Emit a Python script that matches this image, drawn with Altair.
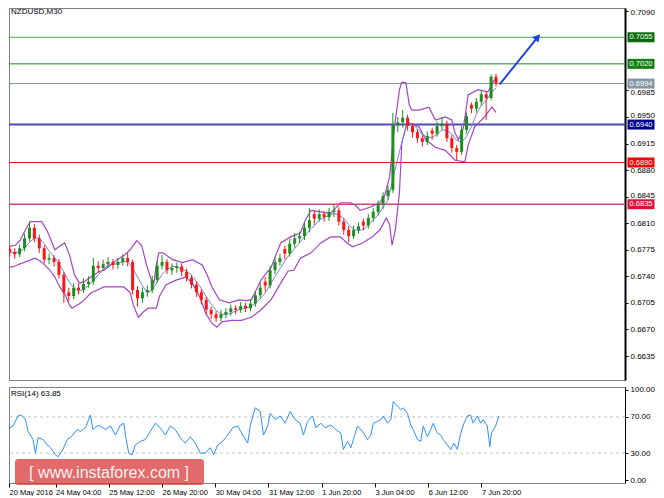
import altair as alt
import pandas as pd

# ---------------- data ----------------
candle_open = [0.6776, 0.6772, 0.6769, 0.6777, 0.6790, 0.6804, 0.6790, 0.6777, 0.6762, 0.6764,
               0.6759, 0.6742, 0.6719, 0.6714, 0.6725, 0.6722, 0.6730, 0.6733, 0.6754, 0.6751,
               0.6756, 0.6759, 0.6755, 0.6759, 0.6764, 0.6759, 0.6722, 0.6711, 0.6719, 0.6722,
               0.6735, 0.6754, 0.6759, 0.6748, 0.6751, 0.6753, 0.6746, 0.6738, 0.6729, 0.6719,
               0.6709, 0.6696, 0.6690, 0.6685, 0.6690, 0.6693, 0.6698, 0.6696, 0.6701, 0.6698,
               0.6704, 0.6715, 0.6733, 0.6728, 0.6748, 0.6759, 0.6776, 0.6770, 0.6783, 0.6790,
               0.6793, 0.6804, 0.6822, 0.6816, 0.6822, 0.6818, 0.6825, 0.6827, 0.6812, 0.6801,
               0.6793, 0.6801, 0.6812, 0.6807, 0.6817, 0.6825, 0.6835, 0.6846, 0.6854, 0.6939,
               0.6943, 0.6949, 0.6938, 0.6930, 0.6922, 0.6917, 0.6932, 0.6928, 0.6938, 0.6941,
               0.6922, 0.6909, 0.6904, 0.6933, 0.6966, 0.6961, 0.6970, 0.6980, 0.6975, 0.7003]
candle_high = [0.6780, 0.6777, 0.6782, 0.6796, 0.6812, 0.6809, 0.6795, 0.6781, 0.6770, 0.6768,
               0.6763, 0.6746, 0.6725, 0.6731, 0.6730, 0.6737, 0.6740, 0.6764, 0.6760, 0.6762,
               0.6765, 0.6763, 0.6764, 0.6769, 0.6771, 0.6762, 0.6727, 0.6725, 0.6728, 0.6741,
               0.6760, 0.6768, 0.6763, 0.6757, 0.6758, 0.6757, 0.6750, 0.6742, 0.6733, 0.6723,
               0.6713, 0.6700, 0.6694, 0.6696, 0.6698, 0.6703, 0.6702, 0.6706, 0.6705, 0.6710,
               0.6720, 0.6731, 0.6739, 0.6754, 0.6765, 0.6770, 0.6780, 0.6789, 0.6797, 0.6799,
               0.6810, 0.6830, 0.6827, 0.6828, 0.6826, 0.6830, 0.6834, 0.6831, 0.6816, 0.6806,
               0.6807, 0.6811, 0.6816, 0.6822, 0.6830, 0.6840, 0.6851, 0.6860, 0.6955, 0.6950,
               0.6959, 0.6953, 0.6942, 0.6934, 0.6926, 0.6931, 0.6936, 0.6944, 0.6950, 0.6945,
               0.6926, 0.6913, 0.6938, 0.6956, 0.6969, 0.6975, 0.6985, 0.6984, 0.7006, 0.7007]
candle_low = [0.6766, 0.6763, 0.6765, 0.6773, 0.6786, 0.6785, 0.6771, 0.6757, 0.6756, 0.6753,
              0.6737, 0.6705, 0.6707, 0.6710, 0.6716, 0.6718, 0.6725, 0.6729, 0.6745, 0.6747,
              0.6751, 0.6749, 0.6750, 0.6754, 0.6753, 0.6716, 0.6700, 0.6705, 0.6713, 0.6718,
              0.6731, 0.6749, 0.6743, 0.6742, 0.6745, 0.6740, 0.6733, 0.6724, 0.6713, 0.6703,
              0.6690, 0.6684, 0.6680, 0.6681, 0.6685, 0.6688, 0.6690, 0.6692, 0.6693, 0.6694,
              0.6700, 0.6710, 0.6720, 0.6724, 0.6743, 0.6754, 0.6762, 0.6766, 0.6778, 0.6784,
              0.6788, 0.6798, 0.6808, 0.6812, 0.6812, 0.6813, 0.6818, 0.6807, 0.6795, 0.6785,
              0.6789, 0.6796, 0.6801, 0.6803, 0.6812, 0.6820, 0.6829, 0.6841, 0.6850, 0.6930,
              0.6936, 0.6932, 0.6923, 0.6916, 0.6911, 0.6913, 0.6920, 0.6924, 0.6933, 0.6917,
              0.6903, 0.6893, 0.6900, 0.6928, 0.6955, 0.6956, 0.6965, 0.6946, 0.6972, 0.6990]
candle_close = [0.6772, 0.6769, 0.6777, 0.6790, 0.6804, 0.6790, 0.6777, 0.6762, 0.6764, 0.6759,
                0.6742, 0.6719, 0.6714, 0.6725, 0.6722, 0.6730, 0.6733, 0.6754, 0.6751, 0.6756,
                0.6759, 0.6755, 0.6759, 0.6764, 0.6759, 0.6722, 0.6711, 0.6719, 0.6722, 0.6735,
                0.6754, 0.6759, 0.6748, 0.6751, 0.6753, 0.6746, 0.6738, 0.6729, 0.6719, 0.6709,
                0.6696, 0.6690, 0.6685, 0.6690, 0.6693, 0.6698, 0.6696, 0.6701, 0.6698, 0.6704,
                0.6715, 0.6725, 0.6728, 0.6748, 0.6759, 0.6764, 0.6770, 0.6783, 0.6790, 0.6793,
                0.6804, 0.6814, 0.6816, 0.6822, 0.6818, 0.6825, 0.6827, 0.6812, 0.6801, 0.6793,
                0.6801, 0.6806, 0.6807, 0.6817, 0.6825, 0.6835, 0.6846, 0.6854, 0.6939, 0.6943,
                0.6949, 0.6938, 0.6930, 0.6922, 0.6917, 0.6925, 0.6928, 0.6938, 0.6941, 0.6922,
                0.6909, 0.6904, 0.6933, 0.6951, 0.6961, 0.6970, 0.6980, 0.6975, 0.7003, 0.6994]
# one candle per 3 hours (six M30 bars); x is measured in M30 bars
candle_bar = list(range(3, 600, 6))

upper_bar = [0, 10, 16, 22, 28, 34, 42, 49, 58, 64, 70, 76, 82, 88, 94, 102, 112, 118, 126, 134,
             142, 150, 158, 164, 170, 176, 179, 182, 185, 190, 202, 214, 226, 238, 244, 250, 259, 271, 283, 292,
             298, 304, 310, 316, 322, 328, 334, 346, 358, 364, 371, 383, 395, 407, 419, 425, 431, 443, 455, 461,
             467, 473, 479, 482, 487, 491, 494, 503, 515, 523, 535, 543, 547, 551, 557, 563, 575, 587, 595]
upper_val = [0.6779, 0.6781, 0.6788, 0.6801, 0.6812, 0.6812, 0.6812, 0.6799, 0.6775, 0.6780,
             0.6784, 0.6768, 0.6742, 0.6731, 0.6733, 0.6739, 0.6746, 0.6748, 0.6755, 0.6762,
             0.6767, 0.6775, 0.6787, 0.6781, 0.6755, 0.6735, 0.6731, 0.6755, 0.6771, 0.6771,
             0.6762, 0.6758, 0.6762, 0.6755, 0.6742, 0.6726, 0.6709, 0.6705, 0.6709, 0.6708,
             0.6709, 0.6722, 0.6735, 0.6744, 0.6751, 0.6768, 0.6784, 0.6792, 0.6797, 0.6814,
             0.6827, 0.6825, 0.6823, 0.6837, 0.6837, 0.6834, 0.6827, 0.6831, 0.6837, 0.6847,
             0.6871, 0.6937, 0.6986, 0.6996, 0.6995, 0.6966, 0.6959, 0.6959, 0.6963, 0.6946,
             0.6950, 0.6946, 0.6929, 0.6920, 0.6935, 0.6979, 0.6986, 0.6983, 0.6999]
lower_bar = [0, 10, 22, 34, 42, 52, 58, 64, 70, 76, 79, 88, 94, 102, 112, 118, 134, 142, 150, 154,
             160, 166, 172, 182, 186, 194, 206, 218, 226, 235, 242, 250, 256, 262, 274, 286, 298, 310, 322, 334,
             343, 350, 358, 371, 383, 395, 407, 415, 422, 434, 446, 455, 463, 467, 470, 474, 479, 482, 487, 491,
             503, 511, 523, 535, 547, 559, 563, 571, 583, 592, 597]
lower_val = [0.6751, 0.6754, 0.6759, 0.6764, 0.6759, 0.6748, 0.6739, 0.6726, 0.6717, 0.6702,
             0.6698, 0.6704, 0.6709, 0.6718, 0.6723, 0.6726, 0.6726, 0.6726, 0.6719, 0.6702,
             0.6686, 0.6693, 0.6698, 0.6698, 0.6714, 0.6729, 0.6735, 0.6739, 0.6731, 0.6713,
             0.6692, 0.6678, 0.6673, 0.6680, 0.6682, 0.6682, 0.6686, 0.6696, 0.6709, 0.6731,
             0.6747, 0.6748, 0.6764, 0.6771, 0.6784, 0.6792, 0.6792, 0.6784, 0.6779, 0.6784,
             0.6792, 0.6801, 0.6817, 0.6808, 0.6781, 0.6801, 0.6850, 0.6916, 0.6937, 0.6942,
             0.6937, 0.6920, 0.6910, 0.6906, 0.6893, 0.6891, 0.6913, 0.6937, 0.6950, 0.6963, 0.6956]

rsi_bar = [0, 6, 13, 19, 23, 28, 31, 37, 40, 43, 49, 54, 58, 64, 67, 73, 78, 84, 90, 94,
           100, 106, 109, 114, 118, 124, 130, 136, 142, 146, 149, 152, 156, 160, 166, 172, 178, 184, 190, 196,
           202, 208, 214, 220, 226, 232, 238, 244, 250, 254, 259, 265, 271, 277, 283, 289, 295, 298, 304, 310,
           314, 319, 322, 328, 334, 340, 346, 352, 358, 362, 367, 373, 377, 383, 388, 395, 401, 407, 410, 415,
           419, 422, 427, 433, 439, 443, 446, 451, 455, 458, 463, 467, 470, 475, 479, 482, 487, 491, 494, 499,
           503, 506, 511, 515, 518, 523, 527, 530, 535, 539, 543, 547, 551, 555, 559, 563, 566, 571, 575, 578,
           583, 586, 588, 593, 597]
rsi_val = [52, 56, 60, 71, 72, 67, 54, 45, 30, 47, 45, 39, 36, 28, 26, 34, 45, 49, 56, 54,
           58, 72, 56, 60, 60, 56, 60, 50, 61, 63, 45, 30, 28, 39, 43, 45, 54, 63, 58, 50,
           60, 56, 47, 41, 48, 41, 30, 30, 36, 28, 39, 43, 50, 58, 60, 50, 41, 60, 80, 76,
           50, 60, 74, 67, 71, 63, 76, 67, 63, 50, 65, 71, 58, 63, 58, 61, 56, 52, 34, 43,
           36, 45, 60, 54, 45, 50, 63, 65, 67, 71, 63, 67, 87, 82, 78, 80, 74, 61, 56, 45,
           43, 60, 48, 56, 63, 52, 50, 45, 39, 34, 41, 34, 52, 63, 71, 72, 63, 71, 63, 67,
           60, 37, 52, 60, 71]

level_price = [0.7055, 0.7020, 0.6994, 0.6940, 0.6890, 0.6835]
level_label = ["0.7055", "0.7020", "0.6994", "0.6940", "0.6890", "0.6835"]
level_line_color = ["#4f9f4f", "#1f8a1f", "#7f8e9d", "#4b4bb4", "#e81414", "#d4466a"]
level_box_color = ["#0b6b0b", "#0f800f", "#8796a6", "#00008c", "#ff0000", "#dc143c"]
level_width = [1, 1, 1, 2, 1, 1.5]

price_ticks = [0.7090, 0.6985, 0.6950, 0.6915, 0.6880, 0.6845, 0.6810,
               0.6775, 0.6740, 0.6705, 0.6670, 0.6635]
rsi_ticks = [0, 30, 70, 100]
rsi_levels = [30, 70]

time_tick_bar = [8.1, 64, 128, 192, 256, 320, 384, 448, 512, 576]
time_tick_label = ["20 May 2016", "24 May 04:00", "25 May 12:00", "26 May 20:00", "30 May 04:00",
                   "31 May 12:00", "1 Jun 20:00", "3 Jun 04:00", "6 Jun 12:00", "7 Jun 20:00"]

arrow_bar = [601.5, 647.0]
arrow_price = [0.6993, 0.7054]

# ---------------- layout ----------------
W, H_MAIN, H_RSI = 616, 372, 96
FONT = "Liberation Sans"
xs = alt.Scale(domain=[8.1, 748.5], nice=False, zero=False)
ys = alt.Scale(domain=[0.66034, 0.70936], nice=False, zero=False)
rs = alt.Scale(domain=[-3.0, 103.0], nice=False, zero=False)

label_shift = ("datum.value > 0.7089 ? 1.4 : "
               "(abs(datum.value - 0.6985) < 0.00001 ? 1.6 : "
               "((abs(datum.value - 0.6950) < 0.00001 || abs(datum.value - 0.6845) < 0.00001) ? -1.6 : 0))")
y_axis = alt.Axis(orient="right", values=price_ticks, format=".4f", title=None, grid=False,
                  domainColor="black", domainWidth=2, tickColor="black", tickSize=3, labelPadding=2,
                  labelFont=FONT, labelFontSize=8, labelColor="black", labelOverlap=False,
                  labelFlush=False, labelOffset={"expr": label_shift})
x_none = alt.X("bar:Q", scale=xs, axis=None)

candles = pd.DataFrame({"bar": candle_bar, "open": candle_open, "high": candle_high,
                        "low": candle_low, "close": candle_close})
candles["dir"] = ["up" if c >= o else "down" for o, c in zip(candle_open, candle_close)]
dir_color = alt.Color("dir:N", scale=alt.Scale(domain=["up", "down"], range=["#1e8c1e", "#ff1414"]),
                      legend=None)

levels = pd.DataFrame({"price": level_price, "label": level_label, "line": level_line_color,
                       "box": level_box_color, "w": level_width})

rules = alt.Chart(levels).mark_rule().encode(
    y=alt.Y("price:Q", scale=ys, axis=y_axis),
    color=alt.Color("line:N", scale=None),
    strokeWidth=alt.StrokeWidth("w:Q", scale=None),
)

upper = alt.Chart(pd.DataFrame({"bar": upper_bar, "v": upper_val})).mark_line(
    color="#a346c4", strokeWidth=1.2, clip=True).encode(
    x=x_none, y=alt.Y("v:Q", scale=ys, axis=y_axis))
lower = alt.Chart(pd.DataFrame({"bar": lower_bar, "v": lower_val})).mark_line(
    color="#a346c4", strokeWidth=1.2, clip=True).encode(
    x=x_none, y=alt.Y("v:Q", scale=ys, axis=y_axis))

ma = alt.Chart(candles).transform_window(
    sma="mean(close)", frame=[-3, 0], sort=[alt.SortField("bar")]
).mark_line(color="#7a86e0", strokeWidth=1, clip=True).encode(
    x=x_none, y=alt.Y("sma:Q", scale=ys, axis=y_axis))

wicks = alt.Chart(candles).mark_rule(strokeWidth=1, clip=True).encode(
    x=x_none, y=alt.Y("low:Q", scale=ys, axis=y_axis), y2="high:Q", color=dir_color)
bodies = alt.Chart(candles).mark_bar(size=3, clip=True).encode(
    x=x_none, y=alt.Y("open:Q", scale=ys, axis=y_axis), y2="close:Q", color=dir_color)

boxes = alt.Chart(levels).mark_tick(thickness=10, size=27, orient="horizontal", opacity=1).encode(
    y=alt.Y("price:Q", scale=ys, axis=y_axis), x=alt.value(W + 16),
    color=alt.Color("box:N", scale=None))
box_text = alt.Chart(levels).mark_text(color="white", font=FONT, fontSize=7.5, align="center",
                                       baseline="middle").encode(
    y=alt.Y("price:Q", scale=ys, axis=y_axis), x=alt.value(W + 16), text="label:N")

arrow_df = pd.DataFrame({"bar": arrow_bar, "p": arrow_price})
arrow = alt.Chart(arrow_df).mark_line(color="#1f3fe0", strokeWidth=2).encode(
    x=x_none, y=alt.Y("p:Q", scale=ys, axis=y_axis))
arrow_head = alt.Chart(arrow_df.tail(1)).mark_point(
    shape="triangle", filled=True, size=70, angle=40, color="#1f3fe0", opacity=1).encode(
    x=x_none, y=alt.Y("p:Q", scale=ys, axis=y_axis))

title = alt.Chart(pd.DataFrame({"t": ["NZDUSD,M30"]})).mark_text(
    align="left", baseline="top", font=FONT, fontSize=8, color="black").encode(
    x=alt.value(2), y=alt.value(0), text="t:N")

main = alt.layer(rules, upper, lower, ma, wicks, bodies, arrow, arrow_head, boxes, box_text,
                 title).properties(width=W, height=H_MAIN)

# ---------------- RSI panel ----------------
label_expr = "[" + ",".join("'%s'" % t for t in time_tick_label) + "][indexof([" + \
    ",".join(str(b) for b in time_tick_bar) + "], datum.value)]"
x_axis = alt.Axis(orient="bottom", values=time_tick_bar, labelExpr=label_expr, labelAlign="left",
                  labelBaseline="top", tickSize=4, tickColor="black", labelPadding=1, domain=False,
                  grid=False, title=None, labelFont=FONT, labelFontSize=7.5, labelColor="black",
                  labelFlush=False, labelOverlap=False)
rsi_axis = alt.Axis(orient="right", values=rsi_ticks, format=".2f", title=None, grid=False,
                    domainColor="black", domainWidth=1, tickColor="black", tickSize=3, labelPadding=2,
                    labelFont=FONT, labelFontSize=8, labelColor="black", labelOverlap=False,
                    labelFlush=False)

rsi_df = pd.DataFrame({"bar": rsi_bar, "rsi": rsi_val})
rsi_rules = alt.Chart(pd.DataFrame({"lvl": rsi_levels})).mark_rule(
    color="#c4c4c4", strokeDash=[3, 3], strokeWidth=1).encode(
    y=alt.Y("lvl:Q", scale=rs, axis=rsi_axis))
rsi_line = alt.Chart(rsi_df).mark_line(color="#2f8fff", strokeWidth=1, clip=True).encode(
    x=alt.X("bar:Q", scale=xs, axis=x_axis), y=alt.Y("rsi:Q", scale=rs, axis=rsi_axis))
rsi_title = alt.Chart(pd.DataFrame({"t": ["RSI(14) 63.85"]})).mark_text(
    align="left", baseline="top", font=FONT, fontSize=8, color="black").encode(
    x=alt.value(2), y=alt.value(3), text="t:N")
wm_rect = alt.Chart(pd.DataFrame({"t": ["wm"]})).mark_rect(
    color="#d83838", opacity=0.75, cornerRadius=3).encode(
    x=alt.value(6), x2=alt.value(195), y=alt.value(72), y2=alt.value(98))
wm_text = alt.Chart(pd.DataFrame({"t": ["[  www.instaforex.com ]"]})).mark_text(
    align="center", baseline="middle", font=FONT, fontSize=16, color="white", opacity=0.92).encode(
    x=alt.value(100), y=alt.value(86), text="t:N")

rsi = alt.layer(rsi_rules, rsi_line, rsi_title, wm_rect, wm_text).properties(width=W, height=H_RSI)

chart = alt.vconcat(main, rsi, spacing=4).properties(
    padding={"left": -1, "top": -1, "right": 0, "bottom": 0}, background="white"
).configure_view(stroke="#808080", strokeWidth=1)

chart.save("out.html", embed_options={"renderer": "svg", "actions": False})
